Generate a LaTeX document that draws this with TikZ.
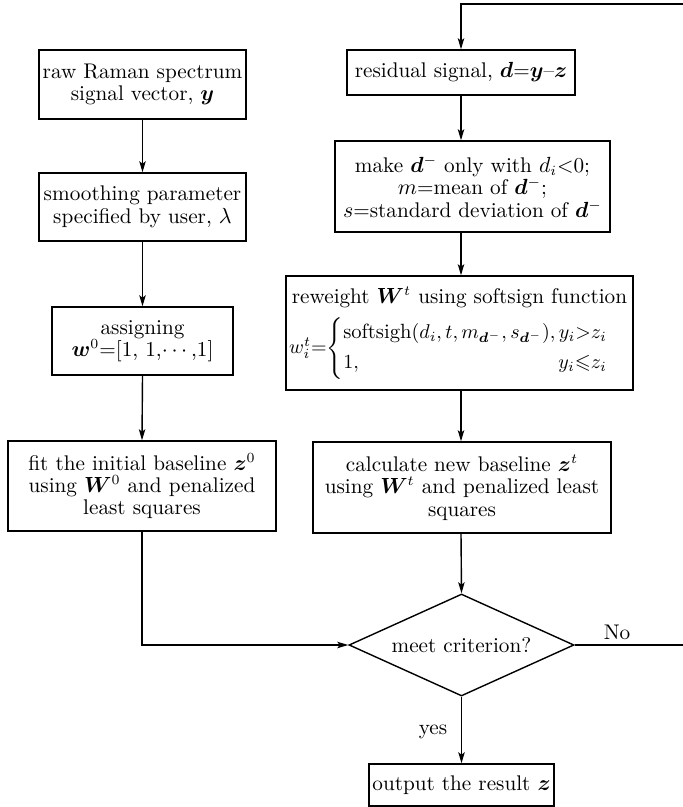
\documentclass[tikz,border=0pt]{standalone}
\usepackage{amsmath,amssymb,bm}
\usetikzlibrary{arrows.meta,shapes.geometric}
\begin{document}
\begin{tikzpicture}[x=0.5pt,y=-0.5pt,
  every node/.style={font=\fontsize{10.6}{11.2}\selectfont},
  box/.style={draw,line width=0.7pt,rectangle,align=center,inner sep=0pt},
  dia/.style={draw,line width=0.7pt,diamond,aspect=2.2,inner sep=0pt},
  arr/.style={line width=0.7pt,-{Stealth[length=5.5pt,width=3.2pt,inset=1.2pt]}},
  ln/.style={line width=0.7pt}]
\useasboundingbox[fill=white] (0,0) rectangle (682,807);
% left column
\node[box,minimum width=103.5pt,minimum height=34.5pt] (raw) at (142.5,84.5)
  {raw Raman spectrum\\signal vector, $\bm{y}$};
\node[box,minimum width=103.5pt,minimum height=34pt] (smooth) at (142.5,207)
  {smoothing parameter\\specified by user, $\lambda$};
\node[box,minimum width=90.5pt,minimum height=34pt] (assign) at (142.5,341)
  {assigning\\$\bm{w}^0$=[1, 1,$\cdots$,1]};
\node[box,minimum width=134pt,minimum height=45pt] (fit) at (142,486)
  {fit the initial baseline $\bm{z}^0$\\using $\bm{W}^0$ and penalized\\least squares};
% right column
\node[box,minimum width=114pt,minimum height=22.5pt] (resid) at (461,72.5)
  {residual signal, $\bm{d}$=$\bm{y}$--$\bm{z}$};
\node[box,minimum width=137.5pt,minimum height=45.5pt] (make) at (472.5,186.5)
  {make $\bm{d}^{-}$ only with $d_i$<0;\\$m$=mean of $\bm{d}^{-}$;\\$s$=standard deviation of $\bm{d}^{-}$};
\node[box,minimum width=173.5pt,minimum height=57pt] (rew) at (459.5,333)
  {reweight $\bm{W}^t$ using softsign function\\[4pt]
   {\fontsize{10.3}{11}\selectfont$w_i^t{=}\!\begin{cases}\text{softsigh}(d_i,t,m_{\bm{d}^-},s_{\bm{d}^-}),y_i{>}z_i\\[2pt]
   1, \hfill y_i{\leqslant}z_i\end{cases}$}};
\node[box,minimum width=149pt,minimum height=45.5pt] (calc) at (462,487.5)
  {calculate new baseline $\bm{z}^t$\\using $\bm{W}^t$ and penalized least\\squares};
\node[dia,minimum width=112.5pt,minimum height=51pt] (crit) at (461.5,645)
  {meet criterion?};
\node[box,minimum width=92.5pt,minimum height=21pt] (out) at (461.5,785)
  {output the result $\bm{z}$};
\node (no) at (617,632) {No};
\node (yes) at (433,732) {yes};
\coordinate (cA) at (690,645);
\coordinate (cB) at (690,4);
% connectors
\draw[arr] (raw.south) -- (smooth.north);
\draw[arr] (smooth.south) -- (assign.north);
\draw[arr] (assign.south) -- (fit.north);
\draw[arr] (fit.south) -- (fit.south |- crit.west) -- (crit.west);
\draw[arr] (resid.south) -- (resid.south |- make.north);
\draw[arr] (resid.south |- make.south) -- (resid.south |- rew.north);
\draw[arr] (resid.south |- rew.south) -- (resid.south |- calc.north);
\draw[arr] (resid.south |- calc.south) -- (crit.north);
\draw[arr] (crit.south) -- (out.north);
\draw[arr] (crit.east) -- (cA) -- (cB) -- (resid.north |- cB) -- (resid.north);
\end{tikzpicture}
\end{document}
